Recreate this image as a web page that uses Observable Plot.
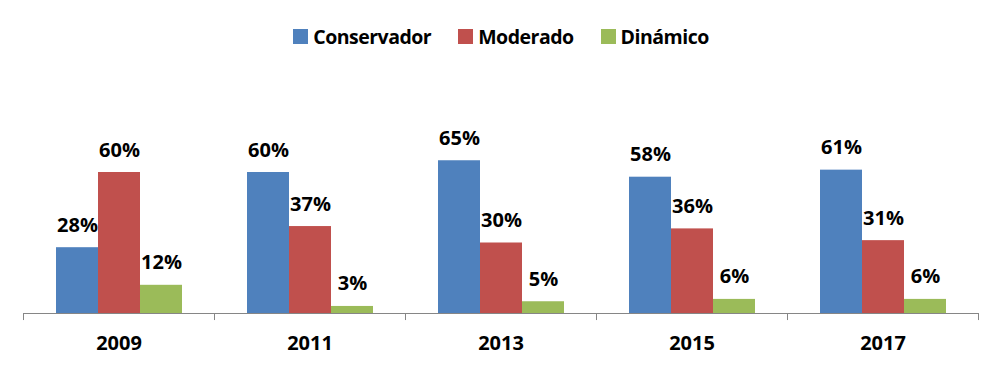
<!DOCTYPE html>
<html>
<head>
<meta charset="utf-8">
<script src="https://cdn.jsdelivr.net/npm/d3@7"></script>
<script src="https://cdn.jsdelivr.net/npm/@observablehq/plot@0.6"></script>
<style>
  html, body { margin: 0; padding: 0; background: #fff; }
  #legend { height: 55px; box-sizing: border-box; padding-top: 18px; display: flex; justify-content: center; }
  .lg-swatch { margin-right: 27px !important; color: #000; letter-spacing: -0.5px; }
  .lg-swatch:last-child { margin-right: 0 !important; }
  .lg-swatch > svg { margin-right: 5px !important; }
</style>
</head>
<body>
<div id="legend"></div>
<div id="chart"></div>
<script>
const years = ["2009", "2011", "2013", "2015", "2017"];
const series = ["Conservador", "Moderado", "Dinámico"];
const conservador = [28, 60, 65, 58, 61];
const moderado = [60, 37, 30, 36, 31];
const dinamico = [12, 3, 5, 6, 6];
const colors = ["#4F81BD", "#C0504D", "#9BBB59"];

const seriesValues = [conservador, moderado, dinamico];
const data = [];
years.forEach((y, i) => {
  series.forEach((s, j) => data.push({year: y, series: s, value: seriesValues[j][i]}));
});

const W = 1002, H = 316, ML = 23, MR = 24;
const FW = (W - ML - MR) / years.length;
const axisColor = "#868686";
const font = "'Open Sans', sans-serif";

const legend = Plot.legend({
  color: {domain: series, range: colors},
  legend: "swatches",
  swatchSize: 15,
  className: "lg",
  style: {fontFamily: font, fontSize: "19.5px", fontWeight: "bold", margin: "0", color: "#000"}
});
document.getElementById("legend").appendChild(legend);

const chart = Plot.plot({
  width: W,
  height: H,
  marginLeft: ML,
  marginRight: MR,
  marginTop: 23,
  marginBottom: 58,
  style: {fontFamily: font, fontSize: "20px", fontWeight: "bold", color: "#000", background: "#fff"},
  fx: {domain: years, padding: 0, label: null},
  x: {domain: series, paddingInner: 0, paddingOuter: 0.747, axis: null},
  y: {domain: [0, 100], axis: null},
  color: {domain: series, range: colors},
  marks: [
    Plot.barY(data, {fx: "year", x: "series", y: "value", fill: "series"}),
    Plot.ruleY([0], {stroke: axisColor}),
    Plot.ruleX(years, {fx: d => d, x: null, y1: 0, y2: -3, dx: -FW / 2, stroke: axisColor}),
    Plot.ruleX(years.slice(-1), {fx: d => d, x: null, y1: 0, y2: -3, dx: FW / 2, stroke: axisColor}),
    Plot.text(data, {fx: "year", x: "series", y: "value", text: d => d.value + "%", lineAnchor: "bottom", dy: -16, fill: "#000", fontSize: 20, fontWeight: "bold"}),
    Plot.axisFx({anchor: "bottom", tickSize: 0, tickPadding: 22, label: null, fontSize: 20, fontWeight: "bold", fill: "#000"})
  ]
});
document.getElementById("chart").appendChild(chart);
</script>
</body>
</html>
